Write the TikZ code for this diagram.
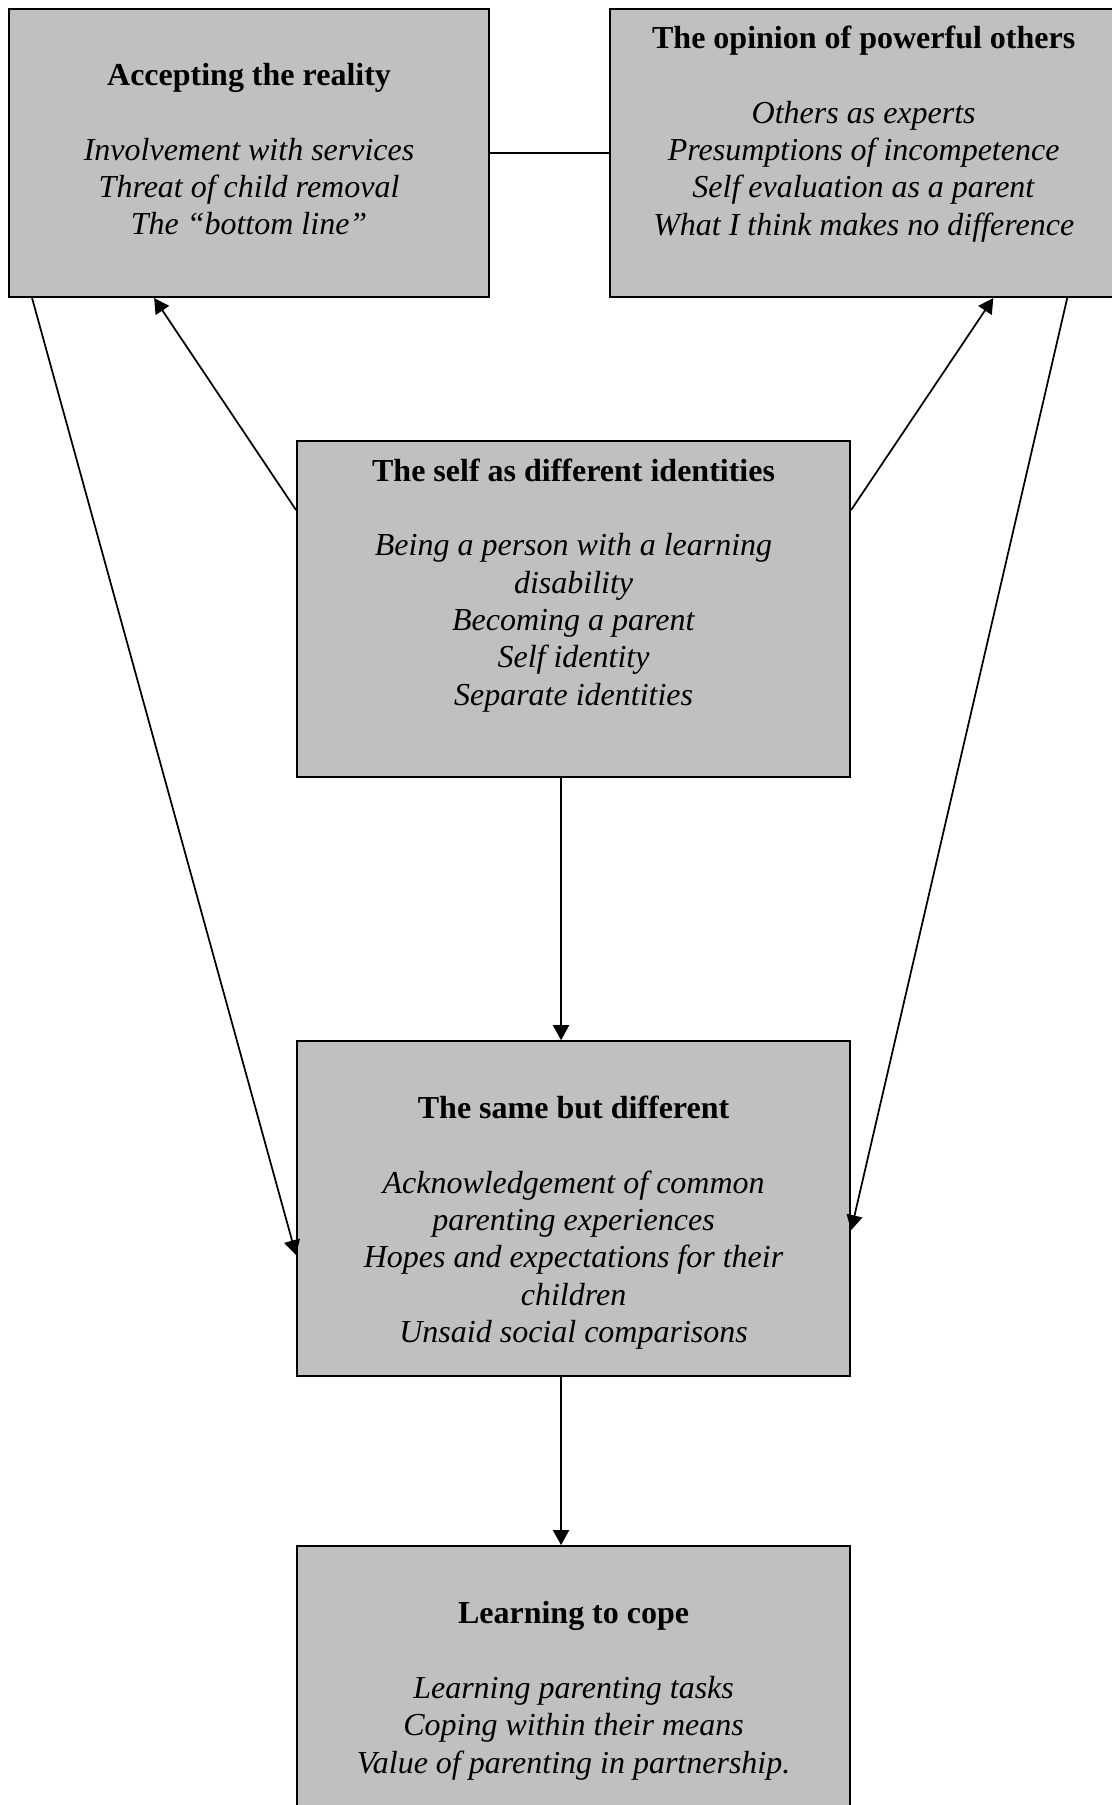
\documentclass[tikz,border=0pt]{standalone}
\usepackage{fontspec}
\setmainfont{Liberation Serif}
\usetikzlibrary{positioning,arrows.meta}
\definecolor{boxgray}{HTML}{C0C0C0}

\begin{document}
\begin{tikzpicture}[
  box/.style={draw, line width=0.75pt, fill=boxgray, inner sep=0pt},
  txt/.style={align=center, inner sep=0pt, font=\fontsize{12}{14}\selectfont},
  link/.style={line width=0.65pt},
  arr/.style={link, -{Triangle[length=5.6pt,width=6pt]}}
]
\useasboundingbox (0,0) rectangle (417pt,-676.9pt);

% boxes
\node[box, minimum width=180pt, minimum height=108pt] (accept) at (93.4pt,-57.4pt) {};
\node[box, minimum width=190.1pt, minimum height=108pt, right=44.7pt of accept] (opinion) {};
\node[box, minimum width=207.4pt, minimum height=126pt] (self) at (215.1pt,-228.4pt) {};
\node[box, minimum width=207.4pt, minimum height=125.6pt, below=98.3pt of self] (same) {};
\node[box, minimum width=207.4pt, minimum height=126pt, below=63pt of same] (cope) {};

% texts
\node[txt, below=20.5pt of accept.north] (acceptTxt) {\textbf{Accepting the reality}\\[14pt]
  \textit{Involvement with services}\\ \textit{Threat of child removal}\\ \textit{The ``bottom line''}};
\node[txt, below=6.5pt of opinion.north] (opinionTxt) {\textbf{The opinion of powerful others}\\[14pt]
  \textit{Others as experts}\\ \textit{Presumptions of incompetence}\\
  \textit{Self evaluation as a parent}\\ \textit{What I think makes no difference}};
\node[txt, below=6.8pt of self.north] (selfTxt) {\textbf{The self as different identities}\\[14pt]
  \textit{Being a person with a learning}\\ \textit{disability}\\ \textit{Becoming a parent}\\
  \textit{Self identity}\\ \textit{Separate identities}};
\node[txt, below=20.7pt of same.north] (sameTxt) {\textbf{The same but different}\\[14pt]
  \textit{Acknowledgement of common}\\ \textit{parenting experiences}\\
  \textit{Hopes and expectations for their}\\ \textit{children}\\ \textit{Unsaid social comparisons}};
\node[txt, below=21pt of cope.north] (copeTxt) {\textbf{Learning to cope}\\[14pt]
  \textit{Learning parenting tasks}\\ \textit{Coping within their means}\\
  \textit{Value of parenting in partnership.}};

% connectors
\draw[link] (accept.east) -- (opinion.west);
\draw[arr] ([yshift=-26.25pt]self.north west) -- ([xshift=-35.6pt]accept.south);
\draw[arr] ([yshift=-26.25pt]self.north east) -- ([xshift=48.6pt]opinion.south);
\draw[arr] ([xshift=9pt]accept.south west) -- ([yshift=-80.6pt]same.north west);
\draw[arr] ([xshift=-19.1pt]opinion.south east) -- ([yshift=-71.25pt]same.north east);
\draw[arr] ([xshift=-4.7pt]self.south) -- ([xshift=-4.7pt]same.north);
\draw[arr] ([xshift=-4.7pt]same.south) -- ([xshift=-4.7pt]cope.north);
\end{tikzpicture}
\end{document}
